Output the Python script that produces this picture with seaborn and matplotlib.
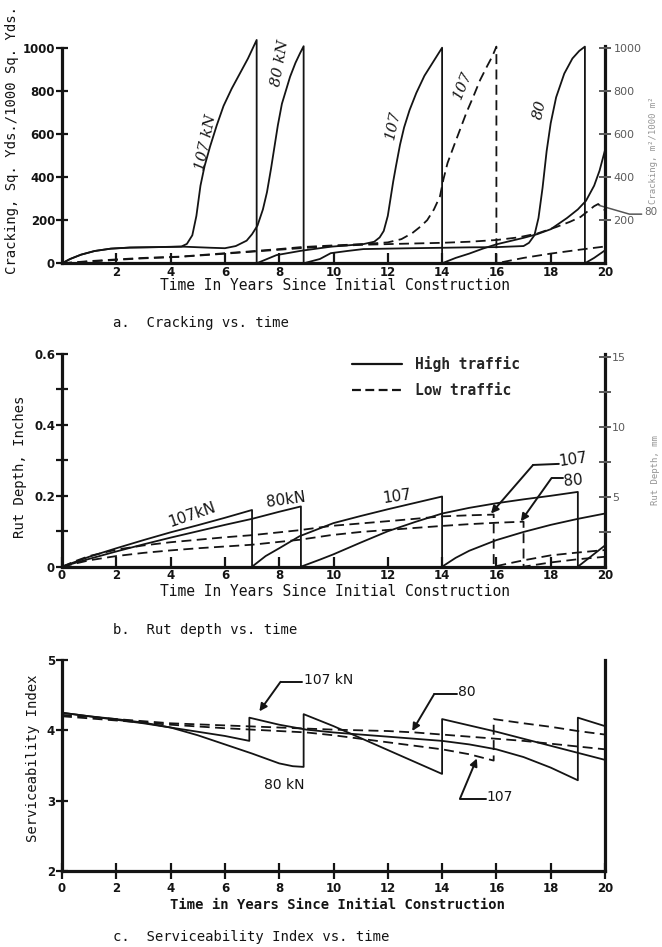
import matplotlib
matplotlib.use("Agg")
import matplotlib.pyplot as plt
from matplotlib.lines import Line2D
import pandas as pd
import seaborn as sns

## Data
# a. Cracking, sq. yds / 1000 sq. yds
crack_107_high_t = [0, 0.3, 0.7, 1.2, 1.8, 2.5, 3.5, 4.4, 4.6, 4.8, 4.95, 5.1, 5.25, 5.45, 5.7, 5.95, 6.25, 6.55, 6.85, 7.17,
                    7.17, 7.9, 8.8, 9.9, 11.1, 11.5, 11.7, 11.85, 12.0, 12.1, 12.2, 12.3, 12.45, 12.6, 12.8, 13.05, 13.35, 13.7, 14.0,
                    14.0, 14.5, 15.0, 15.5, 16.0, 16.5, 17.0, 17.5, 18.0, 18.6, 19.0, 19.3, 19.6, 19.8, 20.0]
crack_107_high_v = [0, 20, 40, 57, 68, 73, 75, 78, 90, 130, 220, 360, 450, 540, 640, 730, 810, 880, 950, 1036,
                    0, 38, 58, 77, 89, 100, 120, 150, 220, 300, 380, 450, 550, 630, 710, 790, 870, 940, 1000,
                    0, 25, 45, 68, 88, 103, 118, 135, 158, 210, 250, 290, 360, 430, 525]
crack_80_high_t = [0, 0.3, 0.7, 1.2, 1.8, 2.5, 3.5, 4.5, 5.5, 6.0, 6.4, 6.8, 7.0, 7.2, 7.4, 7.55, 7.7, 7.8, 7.95, 8.1, 8.4, 8.6, 8.77, 8.9,
                   8.9, 9.5, 9.9, 10.5, 11.1, 12.0, 12.9, 14.0, 15.0, 16.0, 17.0, 17.2, 17.4, 17.55, 17.7, 17.85, 18.0, 18.2, 18.5, 18.8, 19.05, 19.26,
                   19.26, 19.6, 20.0]
crack_80_high_v = [0, 20, 40, 57, 68, 73, 75, 77, 72, 70, 80, 105, 135, 175, 250, 330, 440, 520, 640, 740, 865, 930, 975, 1007,
                   0, 20, 47, 57, 66, 68, 70, 72, 74, 75, 80, 95, 130, 210, 350, 520, 650, 770, 880, 950, 985, 1005,
                   0, 25, 60]
crack_107_low_t = [0, 1, 2, 3, 4.35, 5.5, 6.8, 8, 8.8, 10, 11.1, 12, 12.5, 12.9, 13.2, 13.45, 13.7, 13.92, 14.05, 14.2, 14.45, 14.66,
                   14.9, 15.14, 15.4, 15.64, 15.85, 16.0,
                   16.0, 17, 18, 19, 20]
crack_107_low_v = [0, 10, 18, 25, 31, 42, 54, 66, 75, 83, 89, 97, 112, 140, 170, 200, 250, 310, 390, 465, 550, 620,
                   700, 770, 850, 910, 960, 1005,
                   0, 25, 45, 62, 78]
crack_80_low_t = [0, 1, 2, 3, 4.35, 5.5, 6.8, 8, 9, 10, 11.1, 12, 13, 14, 15, 16, 16.8, 17.5, 18.2, 18.7, 19.1, 19.4, 19.6, 19.75, 20.0]
crack_80_low_v = [0, 8, 16, 23, 30, 40, 52, 63, 72, 80, 86, 89, 92, 95, 100, 108, 120, 138, 168, 192, 215, 245, 265, 275, 245]

# b. Rut depth, inches
rut_107_high_t = [0, 0.5, 1, 2, 3, 4, 5, 6, 7, 7, 7.5, 8, 8.75, 10, 11, 12, 13, 14, 14, 14.5, 15, 16, 17, 18, 19, 20]
rut_107_high_v = [0, 0.014, 0.028, 0.052, 0.075, 0.097, 0.117, 0.138, 0.16,
                  0, 0.03, 0.052, 0.086, 0.123, 0.143, 0.162, 0.18, 0.198,
                  0, 0.025, 0.045, 0.075, 0.098, 0.118, 0.135, 0.15]
rut_80_high_t = [0, 1, 2, 3, 4, 5, 6, 7, 8, 8.8, 8.8, 9.5, 10, 11, 12, 13, 14, 15, 16, 17, 18, 19, 19, 19.5, 20]
rut_80_high_v = [0, 0.022, 0.043, 0.063, 0.082, 0.1, 0.118, 0.135, 0.155, 0.17,
                 0, 0.02, 0.035, 0.068, 0.1, 0.126, 0.15, 0.166, 0.179, 0.19, 0.2, 0.211,
                 0, 0.03, 0.06]
rut_107_low_t = [0, 0.5, 1, 2, 3, 4, 5, 6, 7, 8.75, 9.9, 11, 12.4, 14, 15, 15.9, 15.9, 16.5, 17, 18, 19, 20]
rut_107_low_v = [0, 0.016, 0.03, 0.048, 0.06, 0.069, 0.076, 0.083, 0.089, 0.103, 0.115, 0.122, 0.131, 0.142, 0.145, 0.147,
                 0, 0.01, 0.018, 0.032, 0.04, 0.047]
rut_80_low_t = [0, 1, 2, 3, 4, 5, 6, 7, 8.75, 9.9, 11, 12.4, 14, 15, 16, 17, 17, 18, 19, 20]
rut_80_low_v = [0, 0.018, 0.03, 0.039, 0.046, 0.052, 0.057, 0.062, 0.076, 0.089, 0.098, 0.106, 0.115, 0.12, 0.124, 0.127,
                0, 0.012, 0.021, 0.028]

# c. Serviceability index
psi_107_high_t = [0, 1, 2, 3, 4, 5, 6, 6.9, 6.9, 8, 9, 10, 11, 12, 13, 14, 15, 16, 17, 18, 19, 19, 20]
psi_107_high_v = [4.25, 4.2, 4.15, 4.1, 4.04, 3.98, 3.92, 3.85, 4.18, 4.08, 4.01, 3.97, 3.94, 3.91, 3.88, 3.85,
                  3.8, 3.73, 3.62, 3.47, 3.29, 4.18, 4.06]
psi_80_high_t = [0, 1, 2, 3, 4, 5, 6, 7, 7.5, 8, 8.5, 8.9, 8.9, 10, 11, 12, 13, 14, 14, 15, 16, 17, 18, 19, 20]
psi_80_high_v = [4.25, 4.2, 4.16, 4.11, 4.04, 3.93, 3.8, 3.67, 3.6, 3.53, 3.49, 3.48, 4.23, 4.06, 3.89, 3.72, 3.55, 3.38,
                 4.16, 4.07, 3.98, 3.88, 3.78, 3.68, 3.58]
psi_107_low_t = [0, 2, 4, 6, 8, 9, 10, 11, 12, 13, 14, 15, 15.9, 15.9, 17, 18, 19, 20]
psi_107_low_v = [4.2, 4.14, 4.08, 4.03, 3.99, 3.97, 3.93, 3.88, 3.83, 3.78, 3.73, 3.66, 3.57, 4.16, 4.1, 4.05, 3.99, 3.94]
psi_80_low_t = [0, 2, 4, 6, 8, 10, 12, 13, 14, 15, 16, 17, 18, 19, 20]
psi_80_low_v = [4.22, 4.16, 4.1, 4.07, 4.04, 4.01, 3.99, 3.97, 3.94, 3.91, 3.88, 3.85, 3.81, 3.77, 3.73]

## Style
sns.set_style("ticks")
MONO = "DejaVu Sans Mono"
plt.rcParams["font.family"] = ["DejaVu Sans"]
INK = "#141414"
W, H = 662, 947
DASHES = {"High traffic": "", "Low traffic": (5.5, 3)}


def frame(curves):
    parts = [pd.DataFrame({"t": t, "v": v, "curve": name, "traffic": traffic})
             for name, traffic, t, v in curves]
    return pd.concat(parts, ignore_index=True)


def draw(ax, df):
    sns.lineplot(data=df, x="t", y="v", units="curve", style="traffic", estimator=None,
                 sort=False, dashes=DASHES, style_order=["High traffic", "Low traffic"],
                 color=INK, lw=1.3, legend=False, ax=ax)


def dress(ax, xticks, yticks, ylabels):
    ax.set_xlim(0, 20)
    ax.spines["top"].set_visible(False)
    for s in ["left", "bottom", "right"]:
        ax.spines[s].set_linewidth(2.3)
        ax.spines[s].set_color(INK)
    ax.set_xticks(xticks)
    ax.set_xticklabels([str(x) for x in xticks])
    ax.set_yticks(yticks)
    ax.set_yticklabels(ylabels)
    ax.tick_params(axis="x", direction="in", length=7, width=1.6, labelsize=8.5, pad=2, colors=INK)
    ax.tick_params(axis="y", direction="inout", length=8, width=1.6, labelsize=8.5, pad=1, colors=INK)
    for lab in ax.get_xticklabels() + ax.get_yticklabels():
        lab.set_fontweight("bold")
    ax.set_xlabel("")
    ax.set_ylabel("")


def ftext(x, y, s, **kw):
    fig.text(x / W, 1 - y / H, s, color=INK, **kw)


def leader(ax, tip, knee, end, label, lx, ly, size=10, rot=0, color=INK):
    ax.annotate("", xy=tip, xytext=knee, annotation_clip=False,
                arrowprops=dict(arrowstyle="-|>", lw=1.4, color=color, mutation_scale=11,
                                shrinkA=0, shrinkB=0))
    ax.plot([knee[0], end[0]], [knee[1], end[1]], color=color, lw=1.4, clip_on=False)
    ax.text(lx, ly, label, fontsize=size, rotation=rot, ha="left", va="center", color=color)


fig = plt.figure(figsize=(W / 100, H / 100), dpi=100)
ax_a = fig.add_axes([62 / W, 1 - 263.3 / H, 543 / W, 225.3 / H])
ax_b = fig.add_axes([62 / W, 1 - 566.7 / H, 543 / W, 212.7 / H])
ax_c = fig.add_axes([62 / W, 1 - 871 / H, 543 / W, 211 / H])

## a. Cracking
crack = frame([
    ("107 high", "High traffic", crack_107_high_t, crack_107_high_v),
    ("80 high", "High traffic", crack_80_high_t, crack_80_high_v),
    ("107 low", "Low traffic", crack_107_low_t, crack_107_low_v),
    ("80 low", "Low traffic", crack_80_low_t, crack_80_low_v),
])
draw(ax_a, crack)
ax_a.set_ylim(0, 1045)
dress(ax_a, list(range(2, 21, 2)), [0, 200, 400, 600, 800, 1000], ["0", "200", "400", "600", "800", "1000"])
ax_a.spines["left"].set_bounds(0, 1000)
ax_a.spines["right"].set_bounds(0, 1010)
tw_a = ax_a.twinx()
tw_a.set_ylim(ax_a.get_ylim())
for s in ["top", "left", "bottom", "right"]:
    tw_a.spines[s].set_visible(False)
tw_a.set_yticks([200, 400, 600, 800, 1000])
tw_a.set_yticklabels(["200", "400", "600", "800", "1000"])
tw_a.tick_params(axis="y", direction="inout", length=8, width=1.4, labelsize=8, pad=2, colors="#5a5a5a")
ax_a.text(5.3, 560, "107 kN", rotation=78, fontsize=11, family="DejaVu Serif", style="italic",
          ha="center", va="center", color=INK)
ax_a.text(8.05, 930, "80 kN", rotation=80, fontsize=11, family="DejaVu Serif", style="italic",
          ha="center", va="center", color=INK)
ax_a.text(12.2, 640, "107", rotation=78, fontsize=11, family="DejaVu Serif", style="italic",
          ha="center", va="center", color=INK)
ax_a.text(14.75, 825, "107", rotation=68, fontsize=11, family="DejaVu Serif", style="italic",
          ha="center", va="center", color=INK)
ax_a.text(17.6, 715, "80", rotation=78, fontsize=11, family="DejaVu Serif", style="italic",
          ha="center", va="center", color=INK)
ax_a.plot([19.8, 20.9, 21.35], [268, 228, 228], color="#555555", lw=1.1, clip_on=False)
ax_a.text(21.45, 238, "80", fontsize=7.5, color="#666666", va="center")
ftext(12, 140, "Cracking, Sq. Yds./1000 Sq. Yds.", family=MONO, fontsize=10, rotation=90,
      ha="center", va="center")
ftext(335, 286, "Time In Years Since Initial Construction", family=MONO, fontsize=10.5,
      ha="center", va="center")
ftext(113, 323, "a.  Cracking vs. time", family=MONO, fontsize=10, ha="left", va="center")
ftext(654, 150, "Cracking, m\u00b2/1000 m\u00b2", family=MONO, fontsize=6.5, rotation=90,
      ha="center", va="center", alpha=0.45)

## b. Rut depth
rut = frame([
    ("107 high", "High traffic", rut_107_high_t, rut_107_high_v),
    ("80 high", "High traffic", rut_80_high_t, rut_80_high_v),
    ("107 low", "Low traffic", rut_107_low_t, rut_107_low_v),
    ("80 low", "Low traffic", rut_80_low_t, rut_80_low_v),
])
draw(ax_b, rut)
ax_b.set_ylim(0, 0.6)
dress(ax_b, list(range(0, 21, 2)), [0, 0.1, 0.2, 0.3, 0.4, 0.5, 0.6], ["0", "", "0.2", "", "0.4", "", "0.6"])
tw_b = ax_b.twinx()
tw_b.set_ylim(0, 0.6 * 25.4)
for s in ["top", "left", "bottom", "right"]:
    tw_b.spines[s].set_visible(False)
tw_b.set_yticks([2.5, 5, 7.5, 10, 12.5, 15])
tw_b.set_yticklabels(["", "5", "", "10", "", "15"])
tw_b.tick_params(axis="y", direction="inout", length=8, width=1.4, labelsize=8, pad=1, colors="#5a5a5a")
ax_b.text(4.8, 0.147, "107kN", rotation=19, fontsize=11, ha="center", va="center", color=INK)
ax_b.text(8.25, 0.19, "80kN", rotation=8, fontsize=11, ha="center", va="center", color=INK)
ax_b.text(12.35, 0.197, "107", rotation=8, fontsize=11, ha="center", va="center", color=INK)
leader(ax_b, (15.8, 0.15), (17.35, 0.287), (18.3, 0.29), "107", 18.25, 0.302, size=11, rot=8)
leader(ax_b, (16.9, 0.128), (18.03, 0.25), (18.45, 0.25), "80", 18.45, 0.243, size=11, rot=5)
handles = [Line2D([], [], color=INK, lw=1.6, ls="-"),
           Line2D([], [], color=INK, lw=1.6, ls=(0, (4, 2)))]
ax_b.legend(handles, ["High traffic", "Low traffic"], loc="upper left", bbox_to_anchor=(0.51, 1.05),
            frameon=False, handlelength=3.4, handletextpad=0.9, labelspacing=0.7,
            prop=dict(family=MONO, weight="bold", size=10.5))
ftext(20, 467, "Rut Depth, Inches", family=MONO, fontsize=10, rotation=90, ha="center", va="center")
ftext(335, 591, "Time In Years Since Initial Construction", family=MONO, fontsize=10.5,
      ha="center", va="center")
ftext(113, 630, "b.  Rut depth vs. time", family=MONO, fontsize=10, ha="left", va="center")
ftext(656, 470, "Rut Depth, mm", family=MONO, fontsize=6.5, rotation=90, ha="center", va="center",
      alpha=0.45)

## c. Serviceability
psi = frame([
    ("107 high", "High traffic", psi_107_high_t, psi_107_high_v),
    ("80 high", "High traffic", psi_80_high_t, psi_80_high_v),
    ("107 low", "Low traffic", psi_107_low_t, psi_107_low_v),
    ("80 low", "Low traffic", psi_80_low_t, psi_80_low_v),
])
draw(ax_c, psi)
ax_c.set_ylim(2, 5)
dress(ax_c, list(range(0, 21, 2)), [2, 3, 4, 5], ["2", "3", "4", "5"])
ax_c.tick_params(axis="x", direction="inout", length=12)
leader(ax_c, (7.27, 4.27), (8.05, 4.69), (8.85, 4.69), "107 kN", 8.9, 4.71)
leader(ax_c, (12.9, 3.99), (13.7, 4.51), (14.55, 4.51), "80", 14.6, 4.54)
leader(ax_c, (15.28, 3.6), (14.66, 3.03), (15.6, 3.03), "107", 15.65, 3.05)
ax_c.text(8.2, 3.22, "80 kN", fontsize=10, ha="center", va="center", color=INK)
ftext(33, 758, "Serviceability Index", family=MONO, fontsize=10, rotation=90, ha="center", va="center")
ftext(337, 905, "Time in Years Since Initial Construction", family=MONO, fontsize=10, weight="bold",
      ha="center", va="center")
ftext(113, 937, "c.  Serviceability Index vs. time", family=MONO, fontsize=10, ha="left", va="center")

fig.savefig("out.png", dpi=100, facecolor="white")
